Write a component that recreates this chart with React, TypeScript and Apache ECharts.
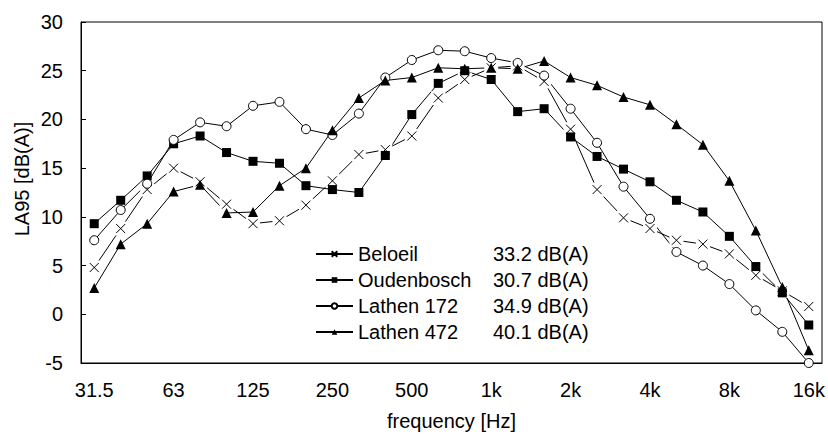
import React, { useEffect, useRef } from "react";
import * as echarts from "echarts";

const categories = [
  "31.5", "40", "50", "63", "80", "100", "125", "160", "200", "250",
  "315", "400", "500", "630", "800", "1k", "1.25k", "1.6k", "2k", "2.5k",
  "3.15k", "4k", "5k", "6.3k", "8k", "10k", "12.5k", "16k",
];

const beloeil = [
  4.8, 8.8, 12.8, 15.0, 13.6, 11.3, 9.3, 9.6, 11.2, 13.7,
  16.4, 16.9, 18.3, 22.2, 24.1, 25.3, 25.5, 23.9, 19.0, 12.8,
  9.9, 8.8, 7.6, 7.2, 6.2, 4.0, 2.4, 0.8,
];

const oudenbosch = [
  9.3, 11.7, 14.2, 17.5, 18.3, 16.6, 15.7, 15.5, 13.2, 12.8,
  12.5, 16.3, 20.5, 23.7, 25.0, 24.1, 20.8, 21.1, 18.2, 16.2,
  14.9, 13.6, 11.7, 10.5, 8.0, 4.9, 2.2, -1.1,
];

const lathen172 = [
  7.6, 10.7, 13.4, 17.9, 19.7, 19.3, 21.4, 21.8, 19.0, 18.4,
  20.6, 24.3, 26.1, 27.1, 27.0, 26.3, 25.8, 24.5, 21.1, 17.6,
  13.1, 9.8, 6.4, 5.0, 3.1, 0.4, -1.8, -5.0,
];

const lathen472 = [
  2.7, 7.2, 9.3, 12.6, 13.3, 10.4, 10.5, 13.2, 15.0, 18.9,
  22.2, 24.0, 24.3, 25.3, 25.2, 25.3, 25.2, 26.0, 24.3, 23.5,
  22.3, 21.5, 19.5, 17.4, 13.7, 8.6, 2.8, -3.7,
];

const seriesNames = ["Beloeil", "Oudenbosch", "Lathen 172", "Lathen 472"];
const overallLevels = ["33.2 dB(A)", "30.7 dB(A)", "34.9 dB(A)", "40.1 dB(A)"];

const yMin = -5;
const yMax = 30;
const yInterval = 5;

const xAxisTitle = "frequency [Hz]";
const yAxisTitle = "LA95 [dB(A)]";

const FONT = "'Liberation Sans', Arial, sans-serif";
const X_SYMBOL = "path://M0,0L10,10M10,0L0,10";

export default function App() {
  const ref = useRef<HTMLDivElement>(null);

  useEffect(() => {
    if (!ref.current) return;
    const chart = echarts.init(ref.current, null, { renderer: "svg" });

    const line = { color: "#000", width: 1 };
    const levelByName: Record<string, string> = {};
    seriesNames.forEach((n, i) => (levelByName[n] = overallLevels[i]));

    chart.setOption({
      animation: false,
      backgroundColor: "#fff",
      textStyle: { fontFamily: FONT, color: "#000" },
      grid: {
        left: 81,
        right: 6,
        top: 22,
        bottom: 76,
        show: true,
        borderColor: "#000",
        borderWidth: 1,
      },
      legend: {
        data: seriesNames,
        orient: "vertical",
        left: 310,
        top: 239,
        itemWidth: 37,
        itemHeight: 7,
        itemGap: 6,
        formatter: (name: string) => `{n|${name}}{v|${levelByName[name]}}`,
        textStyle: {
          fontFamily: FONT,
          fontSize: 20,
          color: "#000",
          rich: {
            n: { width: 135, fontSize: 20, fontFamily: FONT, color: "#000", lineHeight: 20 },
            v: { fontSize: 20, fontFamily: FONT, color: "#000", lineHeight: 20 },
          },
        },
      },
      xAxis: {
        type: "category",
        data: categories,
        boundaryGap: true,
        name: xAxisTitle,
        nameLocation: "middle",
        nameGap: 48,
        nameTextStyle: { fontFamily: FONT, fontSize: 20, color: "#000" },
        axisLine: { onZero: false, lineStyle: { color: "#000", width: 1 } },
        axisTick: { inside: true, length: 5, interval: 0, lineStyle: { color: "#000" } },
        axisLabel: {
          interval: 2,
          margin: 17,
          fontFamily: FONT,
          fontSize: 20,
          color: "#000",
        },
        splitLine: { show: false },
      },
      yAxis: {
        type: "value",
        min: yMin,
        max: yMax,
        interval: yInterval,
        axisLine: { show: true, lineStyle: { color: "#000", width: 1 } },
        axisTick: { show: true, inside: true, length: 5, lineStyle: { color: "#000" } },
        axisLabel: { margin: 18, fontFamily: FONT, fontSize: 20, color: "#000" },
        splitLine: { show: false },
      },
      graphic: [
        {
          type: "text",
          x: 22,
          y: 179,
          rotation: Math.PI / 2,
          style: {
            text: yAxisTitle,
            align: "center",
            verticalAlign: "middle",
            font: `20px ${FONT}`,
            fill: "#000",
          },
        },
      ],
      series: [
        {
          name: "Beloeil",
          type: "line",
          data: beloeil,
          symbol: X_SYMBOL,
          symbolSize: 9,
          lineStyle: line,
          itemStyle: { color: "#000", borderColor: "#000", borderWidth: 1 },
          z: 2,
        },
        {
          name: "_gap",
          type: "line",
          data: beloeil,
          symbol: "rect",
          symbolSize: 14,
          lineStyle: { width: 0, opacity: 0 },
          itemStyle: { color: "#fff", borderWidth: 0 },
          silent: true,
          z: 2,
        },
        {
          name: "_x",
          type: "line",
          data: beloeil,
          symbol: X_SYMBOL,
          symbolSize: 9,
          lineStyle: { width: 0, opacity: 0 },
          itemStyle: { color: "#000", borderColor: "#000", borderWidth: 1 },
          silent: true,
          z: 2,
        },
        {
          name: "Oudenbosch",
          type: "line",
          data: oudenbosch,
          symbol: "rect",
          symbolSize: 9,
          lineStyle: line,
          itemStyle: { color: "#000", borderColor: "#000", borderWidth: 0 },
          z: 2,
        },
        {
          name: "Lathen 172",
          type: "line",
          data: lathen172,
          symbol: "circle",
          symbolSize: 9,
          lineStyle: line,
          itemStyle: { color: "#fff", borderColor: "#000", borderWidth: 1 },
          z: 2,
        },
        {
          name: "Lathen 472",
          type: "line",
          data: lathen472,
          symbol: "triangle",
          symbolSize: 10,
          lineStyle: line,
          itemStyle: { color: "#000", borderColor: "#000", borderWidth: 0 },
          z: 2,
        },
      ],
    });

    return () => chart.dispose();
  }, []);

  return (
    <div
      ref={ref}
      style={{ position: "absolute", left: 0, top: 0, width: 828, height: 439, background: "#fff" }}
    />
  );
}
